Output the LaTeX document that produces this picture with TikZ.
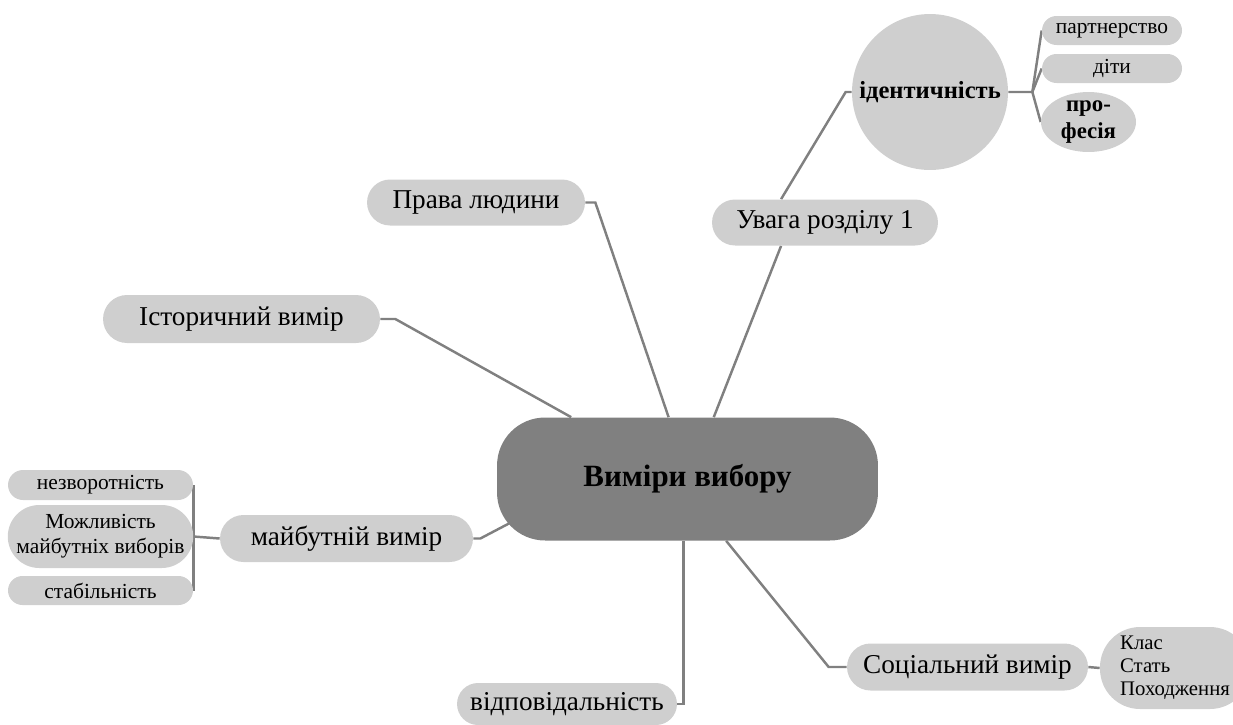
\documentclass[tikz,border=0pt]{standalone}
\usepackage{fontspec}
\setmainfont{Liberation Serif}
\usetikzlibrary{shapes.misc,shapes.geometric,calc,backgrounds}
\definecolor{leaf}{HTML}{CFCFCF}
\definecolor{hub}{HTML}{808080}
\definecolor{branch}{HTML}{808080}

\begin{document}
\begin{tikzpicture}[x=0.02cm, y=-0.02cm,
    topic/.style={rounded rectangle, fill=leaf, minimum height=0.92cm, inner sep=0pt, font=\fontsize{15.5}{17}\selectfont},
    sub/.style={rounded rectangle, fill=leaf, minimum width=3.7cm, minimum height=0.6cm, inner sep=0pt, font=\fontsize{12.2}{14}\selectfont},
    link/.style={draw=branch, line width=1.4pt}]
        \useasboundingbox (0,0) rectangle (1233,724);

        % centre
        \node[rounded corners=0.96cm, fill=hub, minimum width=7.62cm, minimum height=2.46cm, font=\fontsize{17.6}{20}\selectfont\bfseries] (main) at (687.5,479) {Виміри вибору};

        % top right
        \node[topic, minimum width=4.52cm] (focus) at (825,222.5) {Увага розділу 1};
        \node[circle, fill=leaf, minimum size=3.12cm, inner sep=0pt, font=\fontsize{14}{16}\selectfont\bfseries] (ident) at (930,92) {ідентичність};
        \node[sub, minimum width=2.8cm, minimum height=0.58cm] (partner) at (1112,30.5) {партнерство};
        \node[sub, minimum width=2.8cm, minimum height=0.58cm] (kids) at (1112,68.5) {діти};
        \node[ellipse, fill=leaf, minimum width=1.9cm, minimum height=1.2cm, inner sep=0pt, align=center, font=\fontsize{13}{15}\selectfont\bfseries] (prof) at (1088.5,122) {про-\\фесія};

        % left side
        \node[topic, minimum width=4.36cm] (rights) at (476,202.5) {Права людини};
        \node[topic, minimum width=5.54cm, minimum height=0.96cm] (hist) at (241.5,319) {Історичний вимір};
        \node[topic, minimum width=5.06cm, minimum height=0.94cm] (future) at (346.5,538.5) {майбутній вимір};
        \node[sub] (irrev) at (100.5,485) {незворотність};
        \node[sub, minimum height=1.26cm, align=center] (possib) at (100.5,536.5) {Можливість\\майбутніх виборів};
        \node[sub, minimum height=0.58cm] (stab) at (100.5,590.5) {стабільність};

        % bottom
        \node[topic, minimum width=4.82cm, minimum height=0.94cm] (social) at (967.5,667) {Соціальний вимір};
        \node[rounded corners=0.8cm, fill=leaf, minimum width=3cm, minimum height=1.64cm, inner sep=0pt, align=left, font=\fontsize{11.8}{13}\selectfont] (kinds) at (1175,668) {Клас\\Стать\\Походження};
        \node[topic, minimum width=4.4cm, minimum height=0.84cm] (resp) at (567,704) {відповідальність};

        \begin{scope}[on background layer]
          \draw[link] (focus.208) -- (main.67.3);
          \draw[link] (focus.152) -- ($(ident.west)+(-6,0)$) -- (ident.west);
          \draw[link] (ident.east) -- ++(24,0) coordinate (fork) -- (partner.west);
          \draw[link] (fork) -- (kids.west);
          \draw[link] (fork) -- (prof.west);
          \draw[link] (rights.east) -- ++(10,0) -- (main.107.7);
          \draw[link] (hist.east) -- ++(15,0) -- (main.152.6);
          \draw[link] (future.east) -- ++(7,0) -- ($(main.south west)+(23,-23)$);
          \draw[link] (future.west) -- (possib.east);
          \draw[link] (irrev.east) -- (stab.east);
          \draw[link] (social.west) -- ++(-18,0) -- (main.302.9);
          \draw[link] (social.east) -- (kinds.west);
          \draw[link] (resp.east) -- ++(6,0) coordinate (rc) -- (rc |- main.south);
        \end{scope}
      \end{tikzpicture}
\end{document}
